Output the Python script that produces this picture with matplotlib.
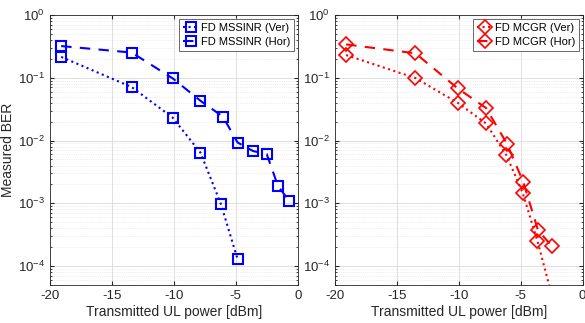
import matplotlib
matplotlib.use('Agg')
import matplotlib.pyplot as plt
from matplotlib.ticker import LogLocator, NullFormatter

plt.rcParams['font.family'] = ['Liberation Sans', 'DejaVu Sans']
plt.rcParams['mathtext.fontset'] = 'custom'
plt.rcParams['mathtext.rm'] = 'Liberation Sans'
plt.rcParams['axes.unicode_minus'] = False

# left panel: MSSINR
mss_ver_x = [-19.1, -13.4, -10.1, -7.85, -6.2, -4.85]
mss_ver_y = [0.215, 0.071, 0.0232, 0.0064, 0.00097, 0.000128]
mss_hor_x = [-19.1, -13.4, -10.1, -7.85, -6.05, -4.85, -3.6, -2.5, -1.6, -0.7]
mss_hor_y = [0.32, 0.252, 0.098, 0.043, 0.0241, 0.0093, 0.0068, 0.0061, 0.0019, 0.0011]

# right panel: MCGR
mcg_ver_x = [-19.1, -13.5, -10.1, -7.8, -6.15, -4.85, -3.65, -2.5]
mcg_ver_y = [0.23, 0.099, 0.040, 0.0187, 0.0058, 0.00148, 0.00025, 0.000035]
mcg_hor_x = [-19.1, -13.5, -10.1, -7.8, -6.1, -4.8, -3.6, -2.5]
mcg_hor_y = [0.34, 0.245, 0.068, 0.033, 0.0088, 0.0022, 0.00037, 0.00021]

edge = (0.15, 0.15, 0.15)

fig = plt.figure(figsize=(5.85, 3.23), dpi=100)
ax1 = fig.add_axes([0.0855, 0.1176, 0.4234, 0.836])
ax2 = fig.add_axes([0.5726, 0.1176, 0.4234, 0.836])


def style(ax):
    ax.set_yscale('log')
    ax.set_xlim(-20, 0)
    ax.set_ylim(5e-5, 1)
    ax.set_xticks([-20, -15, -10, -5, 0])
    ax.yaxis.set_major_locator(LogLocator(base=10, numticks=10))
    ax.yaxis.set_minor_locator(LogLocator(base=10, subs=range(2, 10), numticks=20))
    ax.yaxis.set_minor_formatter(NullFormatter())
    ax.grid(True, which='major', color=(0.85, 0.85, 0.85), lw=0.6, ls='-')
    ax.grid(True, which='minor', axis='y', color=(0.88, 0.88, 0.88), lw=0.5, ls=':')
    ax.set_axisbelow(True)
    ax.tick_params(which='both', direction='in', top=True, right=True,
                   labelsize=9.5, colors=edge, length=3)
    ax.tick_params(which='minor', length=1.5)
    for s in ax.spines.values():
        s.set_color(edge)
        s.set_linewidth(0.6)
    ax.set_xlabel('Transmitted UL power [dBm]', fontsize=10, color=edge, labelpad=2)


ax1.plot(mss_ver_x, mss_ver_y, ls=':', color='blue', lw=1.5, marker='s', ms=6.5,
         mfc='none', mew=1.5, label='FD MSSINR (Ver)')
ax1.plot(mss_hor_x, mss_hor_y, ls='--', color='blue', lw=1.5, marker='s', ms=6.5,
         mfc='none', mew=1.5, dashes=(5, 4), label='FD MSSINR (Hor)')
ax2.plot(mcg_ver_x, mcg_ver_y, ls=':', color='red', lw=1.5, marker='D', ms=7.5,
         mfc='none', mew=1.2, label='FD MCGR (Ver)')
ax2.plot(mcg_hor_x, mcg_hor_y, ls='--', color='red', lw=1.5, marker='D', ms=7.5,
         mfc='none', mew=1.2, dashes=(5, 4), label='FD MCGR (Hor)')

for ax in (ax1, ax2):
    style(ax)
    leg = ax.legend(loc='upper right', fontsize=8, frameon=True, fancybox=False,
                    handlelength=1.4, handletextpad=0.2, borderpad=0.35,
                    labelspacing=0.35, borderaxespad=0.35)
    leg.get_frame().set_edgecolor(edge)
    leg.get_frame().set_linewidth(0.6)

ax1.set_ylabel('Measured BER', fontsize=10, color=edge, labelpad=2)

fig.savefig('out.png', dpi=100)
